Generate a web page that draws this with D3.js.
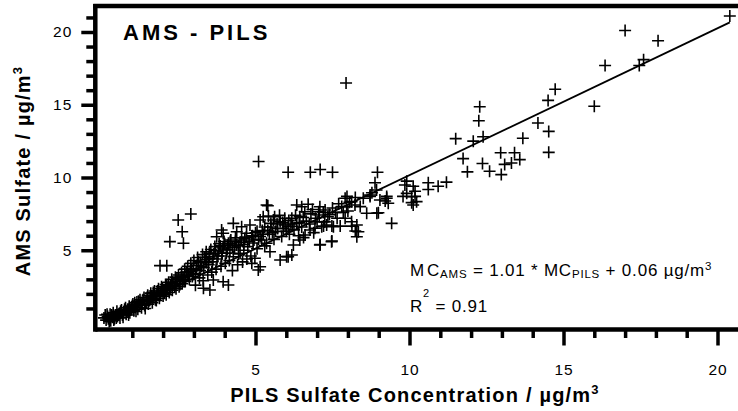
<!DOCTYPE html>
<html lang="en">
<head>
  <meta charset="UTF-8">
  <title>AMS - PILS</title>
  <script src="https://d3js.org/d3.v7.min.js"></script>
  <style>
    body {
      margin: 0;
      background: #fff;
      font-family: "Liberation Sans", Arial, sans-serif;
    }
    .tick text {
      font-size: 15.5px;
      letter-spacing: 1px;
      fill: #000;
    }
    .tick line {
      stroke: #000;
      stroke-width: 3.5;
    }
    .pt {
      fill: none;
      stroke: #000;
      stroke-width: 1.6;
    }
    .fit {
      fill: none;
      stroke: #000;
      stroke-width: 1.8;
    }
    .axis-title {
      font-size: 20px;
      font-weight: bold;
      letter-spacing: 1.2px;
    }
  </style>
</head>
<body>
  <script>
    // PILS (x) vs AMS (y) sulfate, ug/m3
    const points = [
      [0.08,0.35],[0.12,0.55],[0.15,0.2],[0.2,0.45],[0.22,0.3],[0.28,0.6],[0.3,0.15],[0.35,0.4],
      [0.38,0.7],[0.42,0.3],[0.45,0.55],[0.5,0.8],[0.52,0.45],[0.58,0.65],[0.6,0.35],[0.65,0.9],
      [0.68,0.55],[0.72,0.75],[0.78,1.05],[0.8,0.6],[0.85,0.85],[0.9,1.15],[0.92,0.7],[0.98,1.0],
      [1.02,1.3],[1.05,0.85],[1.1,1.1],[1.15,1.45],[1.18,0.95],[1.22,1.25],
      [1.25,1.6],[1.3,1.05],[1.32,1.35],[1.38,1.75],[1.4,1.2],[1.45,1.5],[1.5,1.9],[1.52,1.3],
      [1.58,1.65],[1.6,2.05],[1.65,1.4],[1.7,1.8],[1.72,2.2],[1.78,1.55],[1.8,1.95],[1.85,2.35],
      [1.88,1.7],[1.92,2.1],[1.95,2.5],[2.0,1.85],[2.02,2.25],[2.08,2.65],[2.1,1.95],[2.15,2.4],
      [2.18,2.8],[2.2,2.1],[2.25,2.55],[2.28,3.0],[2.3,2.25],[2.35,2.7],[2.4,3.15],[2.42,2.35],
      [2.45,2.85],[2.5,3.3],[2.52,2.5],[2.55,3.0],[1.9,3.94],[2.12,3.94],[2.22,5.59],[2.66,5.48],
      [2.49,7.08],[2.9,7.49],[2.62,6.27],
      [2.6,3.45],[2.62,2.7],[2.65,3.15],[2.7,3.7],[2.72,2.85],[2.78,3.3],[2.8,3.9],[2.85,3.0],
      [2.88,3.55],[2.9,4.1],[2.95,3.2],[2.98,3.75],[3.0,4.3],[3.05,2.6],[3.05,3.4],[3.1,3.95],
      [3.12,4.5],[3.18,3.1],[3.2,3.6],[3.22,4.15],[3.28,4.7],[3.3,2.9],[3.32,3.8],[3.38,4.35],
      [3.4,4.9],[3.45,3.3],[3.48,4.0],[3.5,4.55],[3.55,5.05],[3.58,3.5],[3.6,4.2],[3.65,4.75],
      [3.68,5.25],[3.72,3.7],[3.75,4.4],[3.8,4.95],[3.82,5.45],[3.88,3.9],[3.9,4.6],[3.95,5.15],
      [3.98,5.6],[3.52,2.27],[3.31,2.39],[3.63,2.96],[3.95,2.84],[3.74,5.93],[3.9,6.39],[3.95,6.17],
      [3.85,5.24],
      [4.02,4.1],[4.05,4.8],[4.1,5.35],[4.12,2.61],[4.12,5.48],[4.15,4.3],[4.17,5.02],[4.2,5.7],
      [4.25,3.6],[4.28,4.55],[4.28,6.85],[4.32,5.2],[4.35,5.85],[4.39,5.36],[4.39,6.27],[4.42,4.0],
      [4.45,4.75],[4.5,4.79],[4.5,5.55],[4.55,6.62],[4.58,4.2],[4.62,5.0],[4.65,5.8],[4.71,6.17],
      [4.72,4.4],[4.75,5.25],[4.82,6.74],[4.85,4.6],[4.88,5.98],[4.88,4.1],[4.92,5.5],[4.98,4.45],
      [5.0,6.2],[5.05,5.1],[5.09,3.64],[5.1,5.75],[5.15,3.87],[5.15,7.08],[5.2,5.7],[5.22,6.35],
      [5.25,7.3],[5.3,5.3],[5.36,5.48],[5.36,8.11],[5.4,8.06],[5.42,7.35],[5.45,6.1],[5.47,4.9],
      [5.5,6.6],[5.58,7.08],[5.6,5.75],[5.65,6.3],[5.7,6.8],[5.8,6.96],[5.8,4.33],[5.85,5.95],
      [5.9,6.5],[5.96,6.74],[6.01,4.56],[6.06,6.62],[6.06,4.56],[6.1,6.1],[6.18,4.67],[6.15,6.8],
      [6.18,7.2],[6.23,5.36],[6.25,6.4],[6.34,8.11],[6.34,6.85],[6.4,6.0],[6.44,7.31],[6.44,5.7],
      [6.5,7.99],[6.5,6.6],[6.56,5.87],[6.61,6.05],[6.65,7.0],[6.71,8.16],[6.77,6.39],[6.8,7.5],
      [6.89,6.21],[6.93,6.51],[6.95,7.2],[7.07,7.42],[7.09,7.99],[7.09,5.36],[7.1,5.4],[7.15,6.62],
      [7.2,7.6],[7.21,6.66],[7.26,7.77],[7.31,6.74],[7.35,7.3],[7.47,5.59],[7.48,5.64],[7.48,6.66],
      [7.5,7.9],[7.53,6.62],[7.6,7.6],[7.75,6.66],[7.8,8.0],[7.91,8.57],[7.91,7.2],[7.96,7.99],
      [8.05,8.3],[8.12,8.34],[8.12,6.96],[8.13,6.66],[8.23,8.11],[8.24,6.32],[8.29,6.74],[8.34,6.27],
      [8.29,5.93],[8.5,8.57],[8.61,7.54],[8.72,8.8],[8.94,7.54],[8.99,7.58],[9.04,8.45],[9.21,8.38],
      [9.26,8.57],[9.31,8.23],[9.42,6.85],[9.85,9.48],[9.91,8.91],[10.07,8.68],[10.07,8.27],[10.12,8.11],
      [10.23,8.34],
      [0.18,0.6],[0.25,0.1],[0.33,0.55],[0.4,0.2],[0.48,0.35],[0.55,0.6],[0.62,0.8],[0.7,0.4],
      [0.75,0.95],[0.82,0.75],[0.88,0.55],[0.95,0.9],[1.0,1.2],[1.08,1.4],[1.12,0.8],[1.2,1.5],
      [1.28,1.3],[1.35,1.6],[1.42,1.0],[1.48,1.75],
      [1.55,1.55],[1.62,1.85],[1.68,2.1],[1.75,1.6],[1.82,2.2],[1.9,1.9],[1.98,2.4],[2.05,2.05],
      [2.12,2.6],[2.22,2.35],[2.3,2.8],[2.38,2.5],[2.45,3.1],[2.55,2.65],[2.6,3.2],[2.68,2.95],
      [2.75,3.5],[2.82,3.25],[2.92,3.65],[2.98,3.35],
      [3.08,3.7],[3.15,4.2],[3.25,3.9],[3.35,4.5],[3.42,4.15],[3.5,4.8],[3.62,4.45],[3.7,5.0],
      [3.78,4.6],[3.85,5.3],[3.92,4.8],[4.0,5.45],[4.08,5.05],[4.18,5.6],[4.25,5.2],[4.35,5.6],
      [4.45,5.3],[4.55,5.7],[4.62,5.4],[4.7,5.9],[4.8,5.6],[4.9,6.0],[4.95,5.7],[5.05,6.3],[5.15,5.95],
      [5.25,6.1],[5.3,6.6],[5.4,6.35],[5.5,6.85],[5.55,6.2],[5.62,7.3],[5.72,6.5],[5.78,7.4],
      [5.88,6.9],[5.95,7.2],[6.0,6.3],[6.08,7.05],[6.2,6.65],[6.3,7.4],[6.42,6.9],[6.55,7.25],
      [6.6,7.65],[6.75,6.8],[6.85,7.8],[7.0,6.95],[7.05,7.65],[7.25,6.95],[7.4,7.45],[7.65,7.2],
      [7.7,8.2],[7.85,7.6],[8.0,7.7],[8.4,8.0],
      [5.1,11.1],[6.06,10.36],[6.78,10.36],[7.1,10.55],[7.5,10.36],[8.96,10.36],[8.88,9.64],[8.78,8.95],
      [8.93,9.14],[7.94,16.5],[9.91,9.75],[10.12,9.4],[10.18,9.06],[10.61,9.64],[10.61,9.18],[10.93,9.4],
      [11.2,9.68],[7.97,8.7],[8.24,8.63],[8.72,8.7],[9.26,8.7],[9.79,8.7],[10.18,8.7],[11.88,10.39],
      [12.37,10.96],[12.6,10.43],[12.98,10.2],[11.74,11.3],[12.96,11.7],[13.41,11.7],[13.58,11.23],[13.31,11.0],
      [13.09,10.9],[11.5,12.67],[12.07,12.5],[12.39,12.8],[13.68,12.7],[14.17,13.75],[14.52,13.17],[14.52,11.73],
      [12.28,14.86],[12.25,13.9],[14.5,15.3],[14.73,16.07],[16.0,14.9],[16.35,17.7],[17.46,17.7],[17.6,18.1],
      [17.0,20.1],[18.07,19.4],[20.4,21.1]
    ];

    // fit: MC_AMS = 1.01 * MC_PILS + 0.06
    const fitSlope = 1.01, fitIntercept = 0.06;
    const fitRange = [0.1, 20.4];

    const majorTicks = [5, 10, 15, 20];
    const xMinorTicks = [1,2,3,4,6,7,8,9,11,12,13,14,16,17,18,19];
    const yMinorTicks = [1,2,3,4,6,7,8,9,11,12,13,14,16,17,18,19,21];

    const W = 738, H = 411;
    const axisLeftX = 95.3, axisBottomY = 329.5, frameTopY = 6;

    const svg = d3.select("body").append("svg")
      .attr("width", W).attr("height", H);

    const x = d3.scaleLinear().domain([0, 20]).range([101.5, 717.5]);
    const y = d3.scaleLinear().domain([0, 20]).range([323, 32]);

    // x axis
    svg.append("g").attr("transform", `translate(0,${axisBottomY})`)
      .call(d3.axisBottom(x).tickValues(xMinorTicks).tickSize(8.5).tickSizeOuter(0).tickFormat(""));
    svg.append("g").attr("transform", `translate(0,${axisBottomY})`)
      .call(d3.axisBottom(x).tickValues(majorTicks).tickSize(16).tickSizeOuter(0).tickPadding(18));
    // y axis
    svg.append("g").attr("transform", `translate(${axisLeftX},0)`)
      .call(d3.axisLeft(y).tickValues(yMinorTicks).tickSize(9).tickSizeOuter(0).tickFormat(""));
    svg.append("g").attr("transform", `translate(${axisLeftX},0)`)
      .call(d3.axisLeft(y).tickValues(majorTicks).tickSize(14).tickSizeOuter(0).tickPadding(9));
    svg.selectAll(".domain").remove();
    svg.selectAll("g[font-family]").attr("font-family", null).attr("font-size", null);

    // frame lines
    svg.append("line").attr("x1", axisLeftX).attr("x2", W).attr("y1", axisBottomY).attr("y2", axisBottomY)
      .attr("stroke", "#000").attr("stroke-width", 4.5);
    svg.append("line").attr("x1", axisLeftX).attr("x2", axisLeftX).attr("y1", frameTopY - 2).attr("y2", axisBottomY + 2.2)
      .attr("stroke", "#000").attr("stroke-width", 4.5);
    svg.append("line").attr("x1", axisLeftX - 2).attr("x2", W).attr("y1", frameTopY).attr("y2", frameTopY)
      .attr("stroke", "#000").attr("stroke-width", 4.3);

    // fit line
    svg.append("path")
      .datum(fitRange)
      .attr("class", "fit")
      .attr("d", d3.line().x(d => x(d)).y(d => y(fitSlope * d + fitIntercept)));

    // points
    svg.append("g").selectAll("path")
      .data(points)
      .join("path")
        .attr("class", "pt")
        .attr("transform", d => `translate(${x(d[0])},${y(d[1])})`)
        .attr("d", "M-6,0H6M0,-6V6");

    // title inside plot
    svg.append("text")
      .attr("x", 123).attr("y", 40)
      .attr("font-size", 22).attr("font-weight", "bold").attr("letter-spacing", 3)
      .text("AMS - PILS");

    // axis titles
    const xt = svg.append("text").attr("class", "axis-title")
      .attr("x", 415).attr("y", 402).attr("text-anchor", "middle");
    xt.append("tspan").text("PILS Sulfate Concentration / \u00b5g/m");
    xt.append("tspan").attr("font-size", 13).attr("dy", -8).text("3");

    const yt = svg.append("text").attr("class", "axis-title")
      .attr("transform", "translate(30,171) rotate(-90)").attr("text-anchor", "middle");
    yt.append("tspan").text("AMS Sulfate / \u00b5g/m");
    yt.append("tspan").attr("font-size", 13).attr("dy", -8).text("3");

    // equation
    const eq = svg.append("text").attr("x", 410).attr("y", 276)
      .attr("font-size", 17).attr("letter-spacing", 0.8);
    eq.append("tspan").text("M");
    eq.append("tspan").attr("dx", 2).text("C");
    eq.append("tspan").attr("font-size", 11.5).attr("dy", 2).text("AMS");
    eq.append("tspan").attr("dy", -2).text(" = 1.01 * MC");
    eq.append("tspan").attr("font-size", 11.5).attr("dy", 2).text("PILS");
    eq.append("tspan").attr("dy", -2).text(" + 0.06 \u00b5g/m");
    eq.append("tspan").attr("font-size", 11.5).attr("dy", -6).text("3");

    const r2 = svg.append("text").attr("x", 410).attr("y", 311.5)
      .attr("font-size", 17).attr("letter-spacing", 0.8);
    r2.append("tspan").text("R");
    r2.append("tspan").attr("font-size", 11).attr("dy", -15).text("2");
    r2.append("tspan").attr("dy", 15).text(" = 0.91");
  </script>
</body>
</html>
